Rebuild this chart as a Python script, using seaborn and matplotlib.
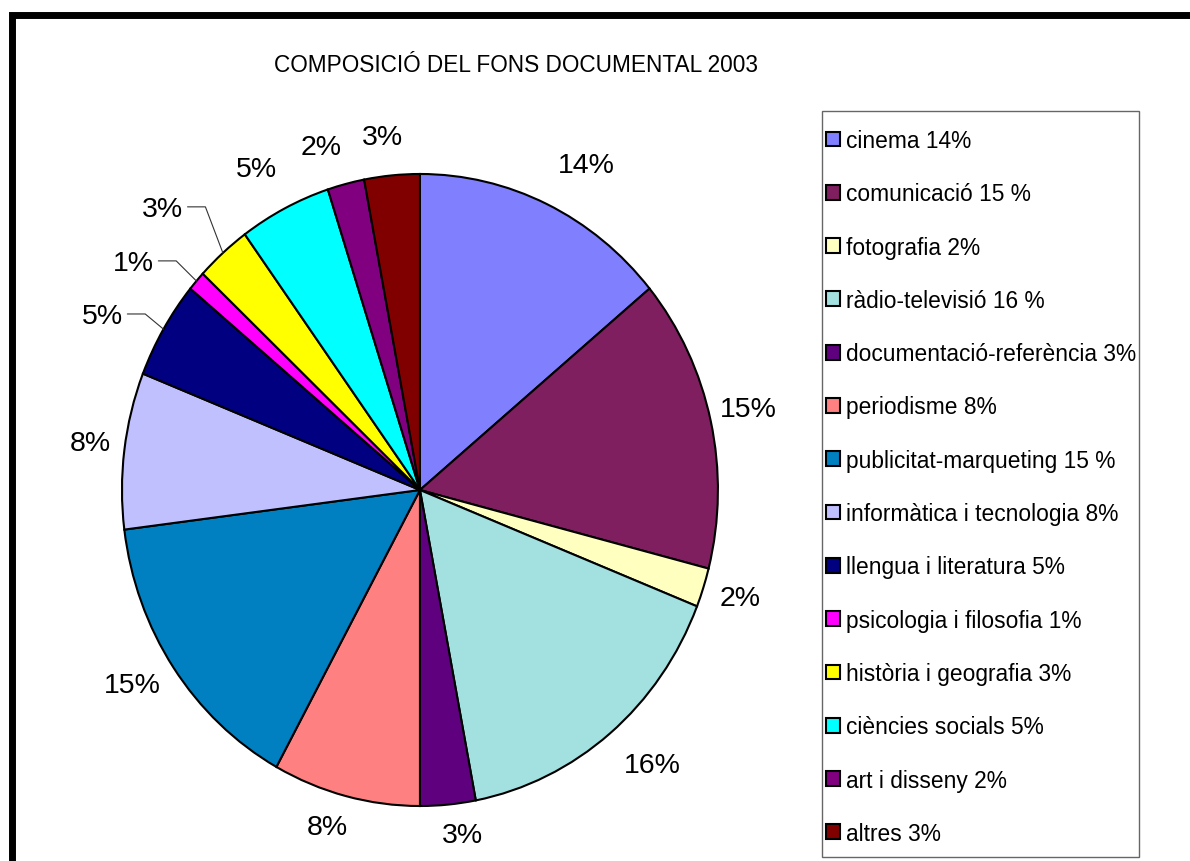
import numpy as np
import matplotlib
matplotlib.use("Agg")
import matplotlib.pyplot as plt
import seaborn as sns
from matplotlib.patches import Rectangle

sns.set_theme(style="white")
plt.rcParams['font.family'] = ['Liberation Sans', 'DejaVu Sans']
plt.rcParams['text.color'] = 'black'

# data
categories = ["cinema", "comunicació", "fotografia", "ràdio-televisió",
              "documentació-referència", "periodisme", "publicitat-marqueting",
              "informàtica i tecnologia", "llengua i literatura",
              "psicologia i filosofia", "història i geografia",
              "ciències socials", "art i disseny", "altres"]
values = [14, 15, 2, 16, 3, 8, 15, 8, 5, 1, 3, 5, 2, 3]
legend_labels = ["cinema 14%", "comunicació 15 %", "fotografia 2%",
                 "ràdio-televisió 16 %", "documentació-referència 3%",
                 "periodisme 8%", "publicitat-marqueting 15 %",
                 "informàtica i tecnologia 8%", "llengua i literatura 5%",
                 "psicologia i filosofia 1%", "història i geografia 3%",
                 "ciències socials 5%", "art i disseny 2%", "altres 3%"]
pct_labels = [f"{v}%" for v in values]
colors = ["#8080FF", "#7F1F5F", "#FFFFC0", "#A3E0E0", "#5F007F", "#FF8080",
          "#0080C0", "#C0C0FF", "#000080", "#FF00FF", "#FFFF00", "#00FFFF",
          "#800080", "#800000"]
palette = sns.color_palette(colors)

fig = plt.figure(figsize=(11.9, 8.62), dpi=100)
ax = fig.add_axes([0.1025, 0.0638, 0.5008, 0.7332])
wedges, _ = ax.pie(values, colors=palette, startangle=90, counterclock=False,
                   wedgeprops=dict(edgecolor="black", linewidth=1.5))
ax.set_aspect("auto")
ax.set_xlim(-1, 1)
ax.set_ylim(-1, 1)

# percentage labels: radius and clockwise shift (degrees) from the wedge middle
label_r = [1.17, 1.13, 1.127, 1.168, 1.10, 1.11, 1.144, 1.117, 0, 0, 0, 1.155, 1.135, 1.124]
label_shift = [3.3, -0.5, -0.3, -2.2, -2.0, 1.8, 1.6, 0.5, 0, 0, 0, -1.4, -2.6, -1.1]
leaders = {8: (-0.997, 0.551), 9: (-0.893, 0.719), 10: (-0.795, 0.890)}
for i, w in enumerate(wedges):
    mid = np.deg2rad((w.theta1 + w.theta2) / 2)
    cx, cy = np.cos(mid), np.sin(mid)
    if i in leaders:
        tx, ty = leaders[i]
        ax.text(tx, ty, pct_labels[i], ha="right", va="center", fontsize=20.5)
        ax.plot([cx, tx + 0.075, tx + 0.015], [cy, ty + 0.006, ty + 0.006],
                color="#333333", lw=0.8, clip_on=False)
    else:
        a = mid - np.deg2rad(label_shift[i])
        r = label_r[i]
        ax.text(r * np.cos(a), r * np.sin(a), pct_labels[i], ha="center",
                va="center", fontsize=20.5)

# title
fig.text(516 / 1190, 1 - 66 / 862, "COMPOSICIÓ DEL FONS DOCUMENTAL 2003",
         ha="center", va="center", fontsize=16.3)

# legend
fig.add_artist(Rectangle((822 / 1190, 1 - 858 / 862), (1139 - 822) / 1190,
                         (858 - 112) / 862, transform=fig.transFigure,
                         fill=False, edgecolor="#666666", lw=1))
fig.legend(wedges, legend_labels, loc="upper left",
           bbox_to_anchor=(826 / 1190, 1 - 130 / 862), frameon=False,
           borderpad=0, borderaxespad=0, fontsize=16.4, handlelength=0.62,
           handleheight=0.62, handletextpad=0.28, labelspacing=1.33,
           labelcolor="black")

# outer chart border
fig.add_artist(Rectangle((11.5 / 1190, -0.5), 2, 1.5 - 15.5 / 862,
                         transform=fig.transFigure, fill=False,
                         edgecolor="black", lw=5))

fig.savefig("out.png", dpi=100)
